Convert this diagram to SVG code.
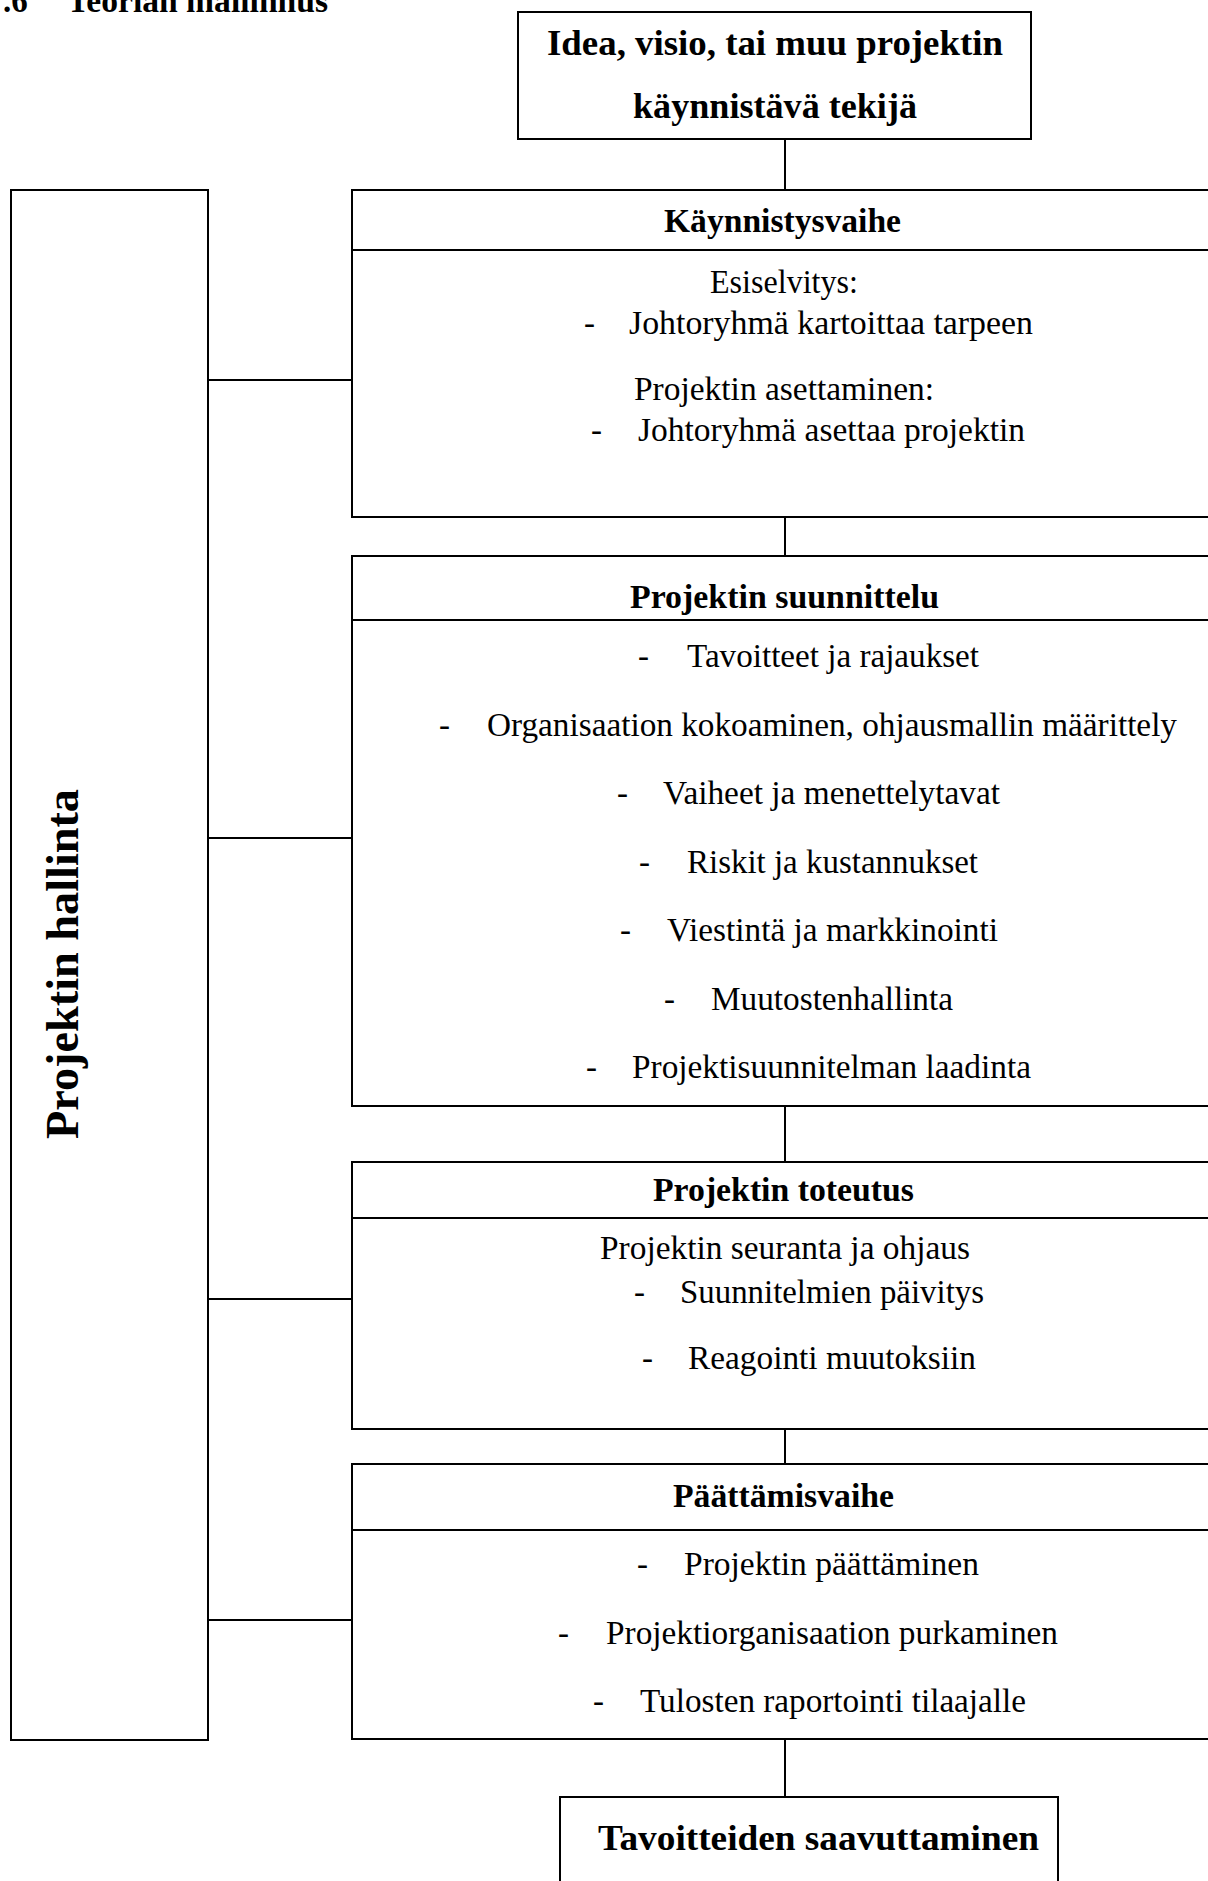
<svg xmlns="http://www.w3.org/2000/svg" width="1208" height="1881" viewBox="0 0 1208 1881">
<style>
.box{fill:#fff;stroke:#000;stroke-width:2}
.ln{stroke:#000;stroke-width:2;fill:none}
.hd{font-family:"Liberation Serif",serif;font-weight:bold;font-size:33px;fill:#000}
.big{font-family:"Liberation Serif",serif;font-weight:bold;font-size:36px;fill:#000}
.tx{font-family:"Liberation Serif",serif;font-size:33px;fill:#000}
</style>
<rect width="1208" height="1881" fill="#fff"/>
<g id="title">
<text class="hd" x="3" y="12">.6</text>
<text class="hd" x="67" y="12" textLength="261" lengthAdjust="spacingAndGlyphs">Teorian mallinnus</text>
</g>
<g id="connectors">
<line class="ln" x1="785" y1="139" x2="785" y2="190"/>
<line class="ln" x1="785" y1="517" x2="785" y2="556"/>
<line class="ln" x1="785" y1="1106" x2="785" y2="1162"/>
<line class="ln" x1="785" y1="1429" x2="785" y2="1464"/>
<line class="ln" x1="785" y1="1739" x2="785" y2="1797"/>
<line class="ln" x1="208" y1="380" x2="352" y2="380"/>
<line class="ln" x1="208" y1="838" x2="352" y2="838"/>
<line class="ln" x1="208" y1="1299" x2="352" y2="1299"/>
<line class="ln" x1="208" y1="1620" x2="352" y2="1620"/>
</g>
<g id="start">
<rect class="box" x="518" y="12" width="513" height="127"/>
<text class="big" x="547" y="55" textLength="456" lengthAdjust="spacingAndGlyphs">Idea, visio, tai muu projektin</text>
<text class="big" x="633" y="118" textLength="284" lengthAdjust="spacingAndGlyphs">käynnistävä tekijä</text>
</g>
<g id="management">
<rect class="box" x="11" y="190" width="197" height="1550"/>
<text class="hd" style="font-size:46px" transform="translate(78,964) rotate(-90)" text-anchor="middle" textLength="350" lengthAdjust="spacingAndGlyphs">Projektin hallinta</text>
</g>
<g id="phase1">
<rect class="box" x="352" y="190" width="880" height="327"/>
<line class="ln" x1="352" y1="250" x2="1220" y2="250"/>
<text class="hd" x="664" y="232" textLength="237" lengthAdjust="spacingAndGlyphs">Käynnistysvaihe</text>
<text class="tx" x="710" y="293" textLength="148" lengthAdjust="spacingAndGlyphs">Esiselvitys:</text>
<text class="tx" x="584" y="334">-</text>
<text class="tx" x="629" y="334" textLength="404" lengthAdjust="spacingAndGlyphs">Johtoryhmä kartoittaa tarpeen</text>
<text class="tx" x="634" y="400" textLength="300" lengthAdjust="spacingAndGlyphs">Projektin asettaminen:</text>
<text class="tx" x="591" y="441">-</text>
<text class="tx" x="638" y="441" textLength="387" lengthAdjust="spacingAndGlyphs">Johtoryhmä asettaa projektin</text>
</g>
<g id="phase2">
<rect class="box" x="352" y="556" width="880" height="550"/>
<line class="ln" x1="352" y1="620" x2="1220" y2="620"/>
<text class="hd" x="630" y="608" textLength="309" lengthAdjust="spacingAndGlyphs">Projektin suunnittelu</text>
<text class="tx" x="638" y="667">-</text>
<text class="tx" x="687" y="667" textLength="292" lengthAdjust="spacingAndGlyphs">Tavoitteet ja rajaukset</text>
<text class="tx" x="439" y="736">-</text>
<text class="tx" x="487" y="736" textLength="690" lengthAdjust="spacingAndGlyphs">Organisaation kokoaminen, ohjausmallin määrittely</text>
<text class="tx" x="617" y="804">-</text>
<text class="tx" x="663" y="804" textLength="337" lengthAdjust="spacingAndGlyphs">Vaiheet ja menettelytavat</text>
<text class="tx" x="639" y="873">-</text>
<text class="tx" x="687" y="873" textLength="291" lengthAdjust="spacingAndGlyphs">Riskit ja kustannukset</text>
<text class="tx" x="620" y="941">-</text>
<text class="tx" x="667" y="941" textLength="331" lengthAdjust="spacingAndGlyphs">Viestintä ja markkinointi</text>
<text class="tx" x="664" y="1010">-</text>
<text class="tx" x="711" y="1010" textLength="242" lengthAdjust="spacingAndGlyphs">Muutostenhallinta</text>
<text class="tx" x="586" y="1078">-</text>
<text class="tx" x="632" y="1078" textLength="399" lengthAdjust="spacingAndGlyphs">Projektisuunnitelman laadinta</text>
</g>
<g id="phase3">
<rect class="box" x="352" y="1162" width="880" height="267"/>
<line class="ln" x1="352" y1="1218" x2="1220" y2="1218"/>
<text class="hd" x="653" y="1201" textLength="261" lengthAdjust="spacingAndGlyphs">Projektin toteutus</text>
<text class="tx" x="600" y="1259" textLength="370" lengthAdjust="spacingAndGlyphs">Projektin seuranta ja ohjaus</text>
<text class="tx" x="634" y="1303">-</text>
<text class="tx" x="680" y="1303" textLength="304" lengthAdjust="spacingAndGlyphs">Suunnitelmien päivitys</text>
<text class="tx" x="642" y="1369">-</text>
<text class="tx" x="688" y="1369" textLength="288" lengthAdjust="spacingAndGlyphs">Reagointi muutoksiin</text>
</g>
<g id="phase4">
<rect class="box" x="352" y="1464" width="880" height="275"/>
<line class="ln" x1="352" y1="1530" x2="1220" y2="1530"/>
<text class="hd" x="673" y="1507" textLength="221" lengthAdjust="spacingAndGlyphs">Päättämisvaihe</text>
<text class="tx" x="637" y="1575">-</text>
<text class="tx" x="684" y="1575" textLength="295" lengthAdjust="spacingAndGlyphs">Projektin päättäminen</text>
<text class="tx" x="558" y="1644">-</text>
<text class="tx" x="606" y="1644" textLength="452" lengthAdjust="spacingAndGlyphs">Projektiorganisaation purkaminen</text>
<text class="tx" x="593" y="1712">-</text>
<text class="tx" x="640" y="1712" textLength="386" lengthAdjust="spacingAndGlyphs">Tulosten raportointi tilaajalle</text>
</g>
<g id="goal">
<rect class="box" x="560" y="1797" width="498" height="110"/>
<text class="big" x="598" y="1850" textLength="441" lengthAdjust="spacingAndGlyphs">Tavoitteiden saavuttaminen</text>
</g>
</svg>
